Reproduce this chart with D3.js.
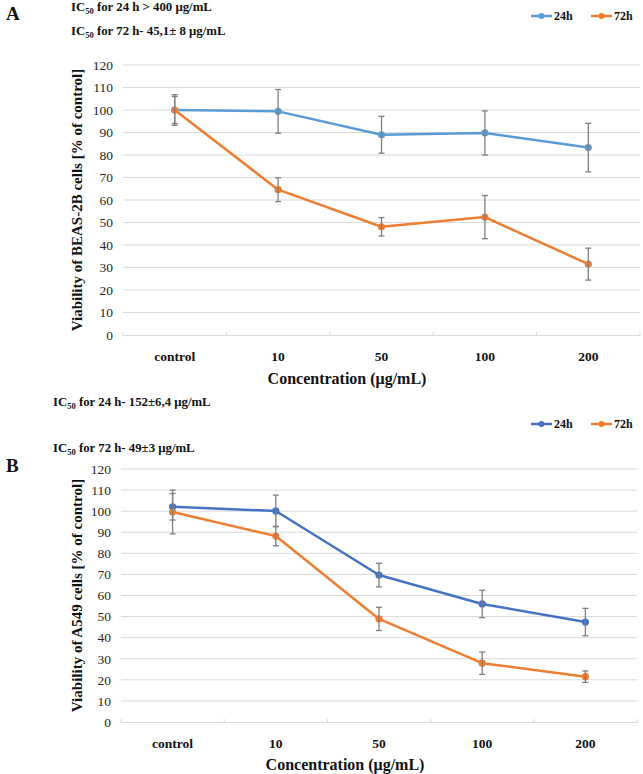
<!DOCTYPE html>
<html><head><meta charset="utf-8">
<script src="https://cdn.jsdelivr.net/npm/d3@7"></script>
<style>html,body{margin:0;padding:0;background:#fff;} svg{display:block;} svg text{font-family:"Liberation Serif","Times New Roman","DejaVu Serif",serif !important;}</style>
</head><body>
<svg id="c" width="643" height="774"></svg>
<script>
const categories = ["control", "10", "50", "100", "200"];
const yTickValues = [0, 10, 20, 30, 40, 50, 60, 70, 80, 90, 100, 110, 120];
const seriesNames = ["24h", "72h"];

const a24 = [100, 99.4, 89.0, 89.8, 83.3];
const a24Err = [6.8, 9.7, 8.2, 9.8, 10.8];
const a72 = [100, 64.6, 48.1, 52.4, 31.5];
const a72Err = [6.0, 5.3, 4.1, 9.6, 7.1];

const b24 = [102.1, 100.1, 69.7, 56.0, 47.4];
const b24Err = [6.3, 7.5, 5.6, 6.5, 6.5];
const b72 = [99.6, 88.2, 48.9, 27.9, 21.5];
const b72Err = [10.4, 4.6, 5.5, 5.3, 2.7];

const svg = d3.select("#c");
const FONT = "Liberation Serif, Times New Roman, DejaVu Serif, serif";

function ic50(g, x, y, hours, rest) {
  const t = g.append("text").attr("x", x).attr("y", y)
    .attr("font-family", FONT).attr("font-weight", "bold").attr("font-size", 12.8).attr("fill", "#111");
  t.append("tspan").text("IC");
  t.append("tspan").attr("dy", 3).attr("font-size", 8.5).text("50");
  t.append("tspan").attr("dy", -3).text(" for " + hours + rest);
}

function panel(cfg) {
  const g = svg.append("g");
  const x = d3.scaleBand().domain(categories).range([cfg.x0, cfg.x1]).padding(0);
  const y = d3.scaleLinear().domain([0, 120]).range([cfg.y0, cfg.y1]);

  g.append("g").selectAll("line").data(yTickValues.filter(v => v > 0)).join("line")
    .attr("x1", cfg.x0).attr("x2", cfg.x1)
    .attr("y1", d => y(d)).attr("y2", d => y(d))
    .attr("stroke", "#d9d9d9").attr("stroke-width", 1);

  const ya = g.append("g").attr("transform", `translate(${cfg.x0 - 10},0)`)
    .call(d3.axisLeft(y).tickValues(yTickValues).tickSize(0).tickPadding(0));
  ya.attr("font-family", FONT);
  ya.select(".domain").remove();
  ya.selectAll("text").attr("font-family", FONT).attr("font-size", 13.5).attr("fill", "#262626");

  const xa = g.append("g").attr("transform", `translate(0,${cfg.y0})`)
    .call(d3.axisBottom(x).tickSize(0).tickPadding(16));
  xa.attr("font-family", FONT);
  xa.select(".domain").attr("stroke", "#d9d9d9");
  xa.selectAll("text").attr("font-family", FONT).attr("font-size", 13.5).attr("font-weight", "bold").attr("fill", "#111");
  const bounds = categories.map(c => x(c)).concat([x(categories[categories.length - 1]) + x.bandwidth()]);
  g.append("g").selectAll("line").data(bounds).join("line")
    .attr("x1", d => d).attr("x2", d => d)
    .attr("y1", cfg.y0 - 3).attr("y2", cfg.y0 + 1)
    .attr("stroke", "#d9d9d9");

  const cx = c => x(c) + x.bandwidth() / 2;
  const series = [
    { vals: cfg.s24, err: cfg.e24, color: cfg.c24 },
    { vals: cfg.s72, err: cfg.e72, color: "#ED7D31" }
  ];
  series.forEach(s => {
    const pts = categories.map((c, i) => ({ c, v: s.vals[i], e: s.err[i] }));
    g.append("path").datum(pts)
      .attr("d", d3.line().x(d => cx(d.c)).y(d => y(d.v)))
      .attr("fill", "none").attr("stroke", s.color).attr("stroke-width", 2.5).attr("stroke-linejoin", "round");
    g.append("g").selectAll("circle").data(pts).join("circle")
      .attr("cx", d => cx(d.c)).attr("cy", d => y(d.v)).attr("r", 3.6).attr("fill", s.color);
    const eb = g.append("g").attr("stroke", "#7f7f7f").attr("stroke-width", 1.3);
    eb.selectAll("line.v").data(pts).join("line").attr("class", "v")
      .attr("x1", d => cx(d.c)).attr("x2", d => cx(d.c))
      .attr("y1", d => y(d.v + d.e)).attr("y2", d => y(d.v - d.e));
    eb.selectAll("line.t").data(pts).join("line").attr("class", "t")
      .attr("x1", d => cx(d.c) - 3).attr("x2", d => cx(d.c) + 3)
      .attr("y1", d => y(d.v + d.e)).attr("y2", d => y(d.v + d.e));
    eb.selectAll("line.b").data(pts).join("line").attr("class", "b")
      .attr("x1", d => cx(d.c) - 3).attr("x2", d => cx(d.c) + 3)
      .attr("y1", d => y(d.v - d.e)).attr("y2", d => y(d.v - d.e));
  });

  g.append("text").attr("transform", `translate(${cfg.ytx},${(cfg.y0 + cfg.y1) / 2}) rotate(-90)`)
    .attr("text-anchor", "middle").attr("dominant-baseline", "central")
    .attr("font-family", FONT).attr("font-weight", "bold").attr("font-size", 15).attr("fill", "#111")
    .text(cfg.ytitle);
  g.append("text").attr("x", cfg.xtx).attr("y", cfg.xty)
    .attr("text-anchor", "middle")
    .attr("font-family", FONT).attr("font-weight", "bold").attr("font-size", 16).attr("fill", "#111")
    .text("Concentration (μg/mL)");

  const lg = g.append("g");
  [cfg.c24, "#ED7D31"].forEach((col, i) => {
    const lx = cfg.lx + i * 60;
    lg.append("line").attr("x1", lx).attr("x2", lx + 21).attr("y1", cfg.ly).attr("y2", cfg.ly)
      .attr("stroke", col).attr("stroke-width", 2.5);
    lg.append("circle").attr("cx", lx + 10.5).attr("cy", cfg.ly).attr("r", 3).attr("fill", col);
    lg.append("text").attr("x", lx + 23).attr("y", cfg.ly).attr("dominant-baseline", "central")
      .attr("font-family", FONT).attr("font-weight", "bold").attr("font-size", 12).attr("fill", "#111")
      .text(seriesNames[i]);
  });
  return g;
}

panel({ x0: 123, x1: 640, y0: 335, y1: 65, s24: a24, e24: a24Err, s72: a72, e72: a72Err,
  c24: "#5B9BD5", ytitle: "Viability of BEAS-2B cells [% of control]", ytx: 77, xtx: 347, xty: 384, lx: 531, ly: 16 });
panel({ x0: 121, x1: 637, y0: 722, y1: 469, s24: b24, e24: b24Err, s72: b72, e72: b72Err,
  c24: "#4472C4", ytitle: "Viability of A549 cells [% of control]", ytx: 77, xtx: 345, xty: 770, lx: 531, ly: 424 });

svg.append("text").attr("x", 6).attr("y", 20).attr("font-family", FONT).attr("font-weight", "bold")
  .attr("font-size", 19).attr("fill", "#111").text("A");
svg.append("text").attr("x", 6).attr("y", 472).attr("font-family", FONT).attr("font-weight", "bold")
  .attr("font-size", 19).attr("fill", "#111").text("B");

ic50(svg, 71, 11, "24 h", " > 400 μg/mL");
ic50(svg, 71, 35, "72 h", "- 45,1± 8 μg/mL");
ic50(svg, 53, 406, "24 h", "- 152±6,4 μg/mL");
ic50(svg, 53, 452, "72 h", "- 49±3 μg/mL");
</script>
</body></html>
